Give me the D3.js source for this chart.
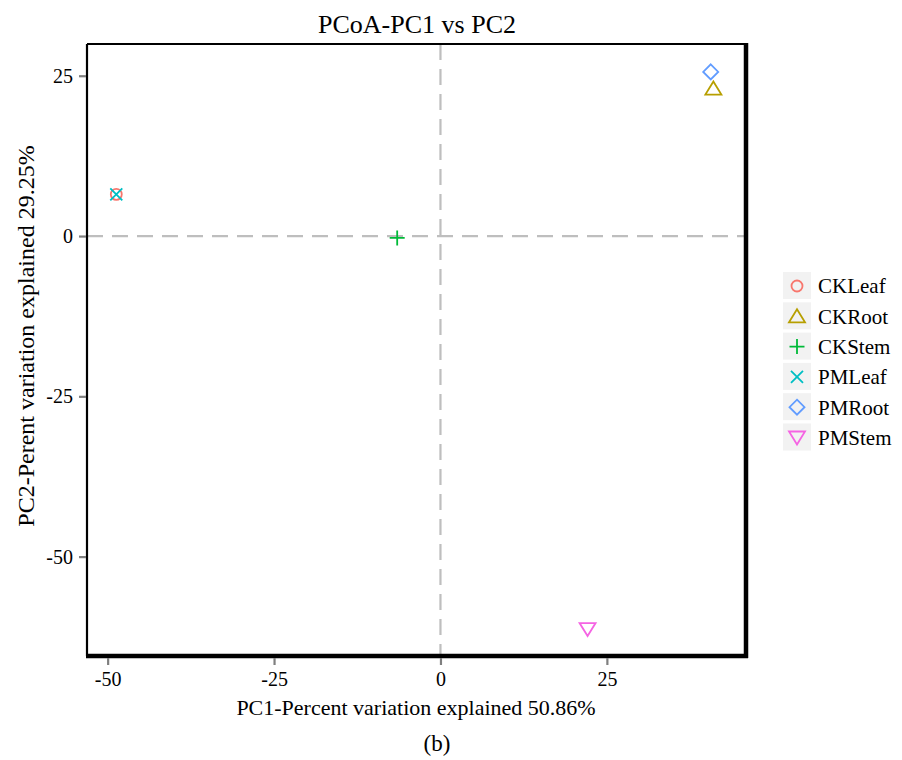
<!DOCTYPE html>
<html>
<head>
<meta charset="utf-8">
<script src="https://cdn.jsdelivr.net/npm/d3@7"></script>
<style>
  body { margin: 0; background: #fff; }
  text { font-family: "Liberation Serif", "Times New Roman", serif; fill: #000; }
</style>
</head>
<body>
<div id="chart"></div>
<script>
// sample groups, PC1 / PC2 scores
const groups = ['CKLeaf', 'CKRoot', 'CKStem', 'PMLeaf', 'PMRoot', 'PMStem']
const pc1 = [-48.7, 41.0, -6.5, -48.7, 40.6, 22.1]
const pc2 = [6.5, 23.0, -0.3, 6.5, 25.6, -61.3]
const shapes = ['circle', 'triangle', 'plus', 'cross', 'diamond', 'triangleDown']
const colors = ['#F8766D', '#B79F00', '#00BA38', '#00BFC4', '#619CFF', '#F564E3']
const xTicks = [-50, -25, 0, 25]
const yTicks = [25, 0, -25, -50]

const width = 902, height = 760
const panel = { left: 87, top: 44, right: 746, bottom: 656 }

const svg = d3.select('#chart').append('svg')
    .attr('width', width)
    .attr('height', height)

const x = d3.scaleLinear().domain([-53.1, 45.9]).range([panel.left, panel.right])
const y = d3.scaleLinear().domain([29.95, -65.5]).range([panel.top, panel.bottom])

// open shape paths, centred on 0,0
function shapePath(s) {
    const r = 6.5
    switch (s) {
        case 'circle': {
            const p = d3.path(); p.arc(0, 0, 5.5, 0, 2 * Math.PI); return p.toString()
        }
        case 'triangle': return `M0,${-r - 0.5}L${r + 1.5},${r - 0.5}L${-r - 1.5},${r - 0.5}Z`
        case 'triangleDown': return `M0,${r + 0.5}L${r + 1.5},${-r + 0.5}L${-r - 1.5},${-r + 0.5}Z`
        case 'plus': return `M${-r - 1},0H${r + 1}M0,${-r - 1}V${r + 1}`
        case 'cross': return `M${-r + 0.5},${-r + 0.5}L${r - 0.5},${r - 0.5}M${-r + 0.5},${r - 0.5}L${r - 0.5},${-r + 0.5}`
        case 'diamond': return `M0,${-r - 1}L${r + 1},0L0,${r + 1}L${-r - 1},0Z`
    }
}

// zero reference lines
svg.append('line')
    .attr('x1', panel.left).attr('x2', panel.right)
    .attr('y1', y(0)).attr('y2', y(0))
    .attr('stroke', '#BEBEBE').attr('stroke-width', 2.2)
    .attr('stroke-dasharray', '16,9')
svg.append('line')
    .attr('x1', x(0)).attr('x2', x(0))
    .attr('y1', panel.top).attr('y2', panel.bottom)
    .attr('stroke', '#BEBEBE').attr('stroke-width', 2.2)
    .attr('stroke-dasharray', '16,9')

// points
svg.append('g').selectAll('path')
    .data(groups)
    .join('path')
    .attr('d', (d, i) => shapePath(shapes[i]))
    .attr('transform', (d, i) => `translate(${x(pc1[i])},${y(pc2[i])})`)
    .attr('fill', 'none')
    .attr('stroke', (d, i) => colors[i])
    .attr('stroke-width', 1.8)

// panel border: thin left/top, heavy right/bottom
svg.append('line').attr('x1', panel.left).attr('x2', panel.left)
    .attr('y1', panel.top).attr('y2', panel.bottom).attr('stroke', '#000').attr('stroke-width', 2.2)
svg.append('line').attr('x1', panel.left).attr('x2', panel.right)
    .attr('y1', panel.top).attr('y2', panel.top).attr('stroke', '#000').attr('stroke-width', 2.2)
svg.append('line').attr('x1', panel.right).attr('x2', panel.right)
    .attr('y1', panel.top - 1).attr('y2', panel.bottom + 2).attr('stroke', '#000').attr('stroke-width', 4.5)
svg.append('line').attr('x1', panel.left - 1).attr('x2', panel.right + 2)
    .attr('y1', panel.bottom).attr('y2', panel.bottom).attr('stroke', '#000').attr('stroke-width', 4.5)

// axes (plain hyphen for negatives, as in the source figure)
const xAxis = d3.axisBottom(x).tickValues(xTicks).tickFormat(d => String(d)).tickSize(7).tickPadding(5)
const yAxis = d3.axisLeft(y).tickValues(yTicks).tickFormat(d => String(d)).tickSize(7).tickPadding(6)

const xAxisG = svg.append('g')
    .attr('transform', `translate(0,${panel.bottom + 2})`)
    .call(xAxis)
const yAxisG = svg.append('g')
    .attr('transform', `translate(${panel.left - 1},0)`)
    .call(yAxis)

for (const g of [xAxisG, yAxisG]) {
    g.select('.domain').remove()
    g.selectAll('.tick line').attr('stroke', '#7F7F7F').attr('stroke-width', 2.2)
    g.selectAll('.tick text')
        .attr('font-family', '"Liberation Serif", serif')
        .attr('font-size', 20)
        .attr('fill', '#000')
}
xAxisG.selectAll('.tick text').attr('dy', '0.82em')

// titles
svg.append('text')
    .attr('x', 417).attr('y', 33)
    .attr('text-anchor', 'middle').attr('font-size', 26)
    .text('PCoA-PC1 vs PC2')
svg.append('text')
    .attr('x', 416).attr('y', 715)
    .attr('text-anchor', 'middle').attr('font-size', 22)
    .text('PC1-Percent variation explained 50.86%')
svg.append('text')
    .attr('transform', `translate(34,${(panel.top + panel.bottom) / 2 - 14}) rotate(-90)`)
    .attr('text-anchor', 'middle').attr('font-size', 24)
    .text('PC2-Perent variation explained 29.25%')
svg.append('text')
    .attr('x', 437).attr('y', 751)
    .attr('text-anchor', 'middle').attr('font-size', 23)
    .text('(b)')

// legend
const legend = svg.append('g').attr('transform', 'translate(783,272)')
const item = legend.selectAll('g')
    .data(groups)
    .join('g')
    .attr('transform', (d, i) => `translate(0,${i * 30.3})`)
item.append('rect')
    .attr('width', 28).attr('height', 27)
    .attr('fill', '#F2F2F2')
item.append('path')
    .attr('d', (d, i) => shapePath(shapes[i]))
    .attr('transform', 'translate(14,14)')
    .attr('fill', 'none')
    .attr('stroke', (d, i) => colors[i])
    .attr('stroke-width', 1.8)
item.append('text')
    .attr('x', 35).attr('y', 14).attr('dy', '0.35em')
    .attr('font-size', 21)
    .text(d => d)
</script>
</body>
</html>
